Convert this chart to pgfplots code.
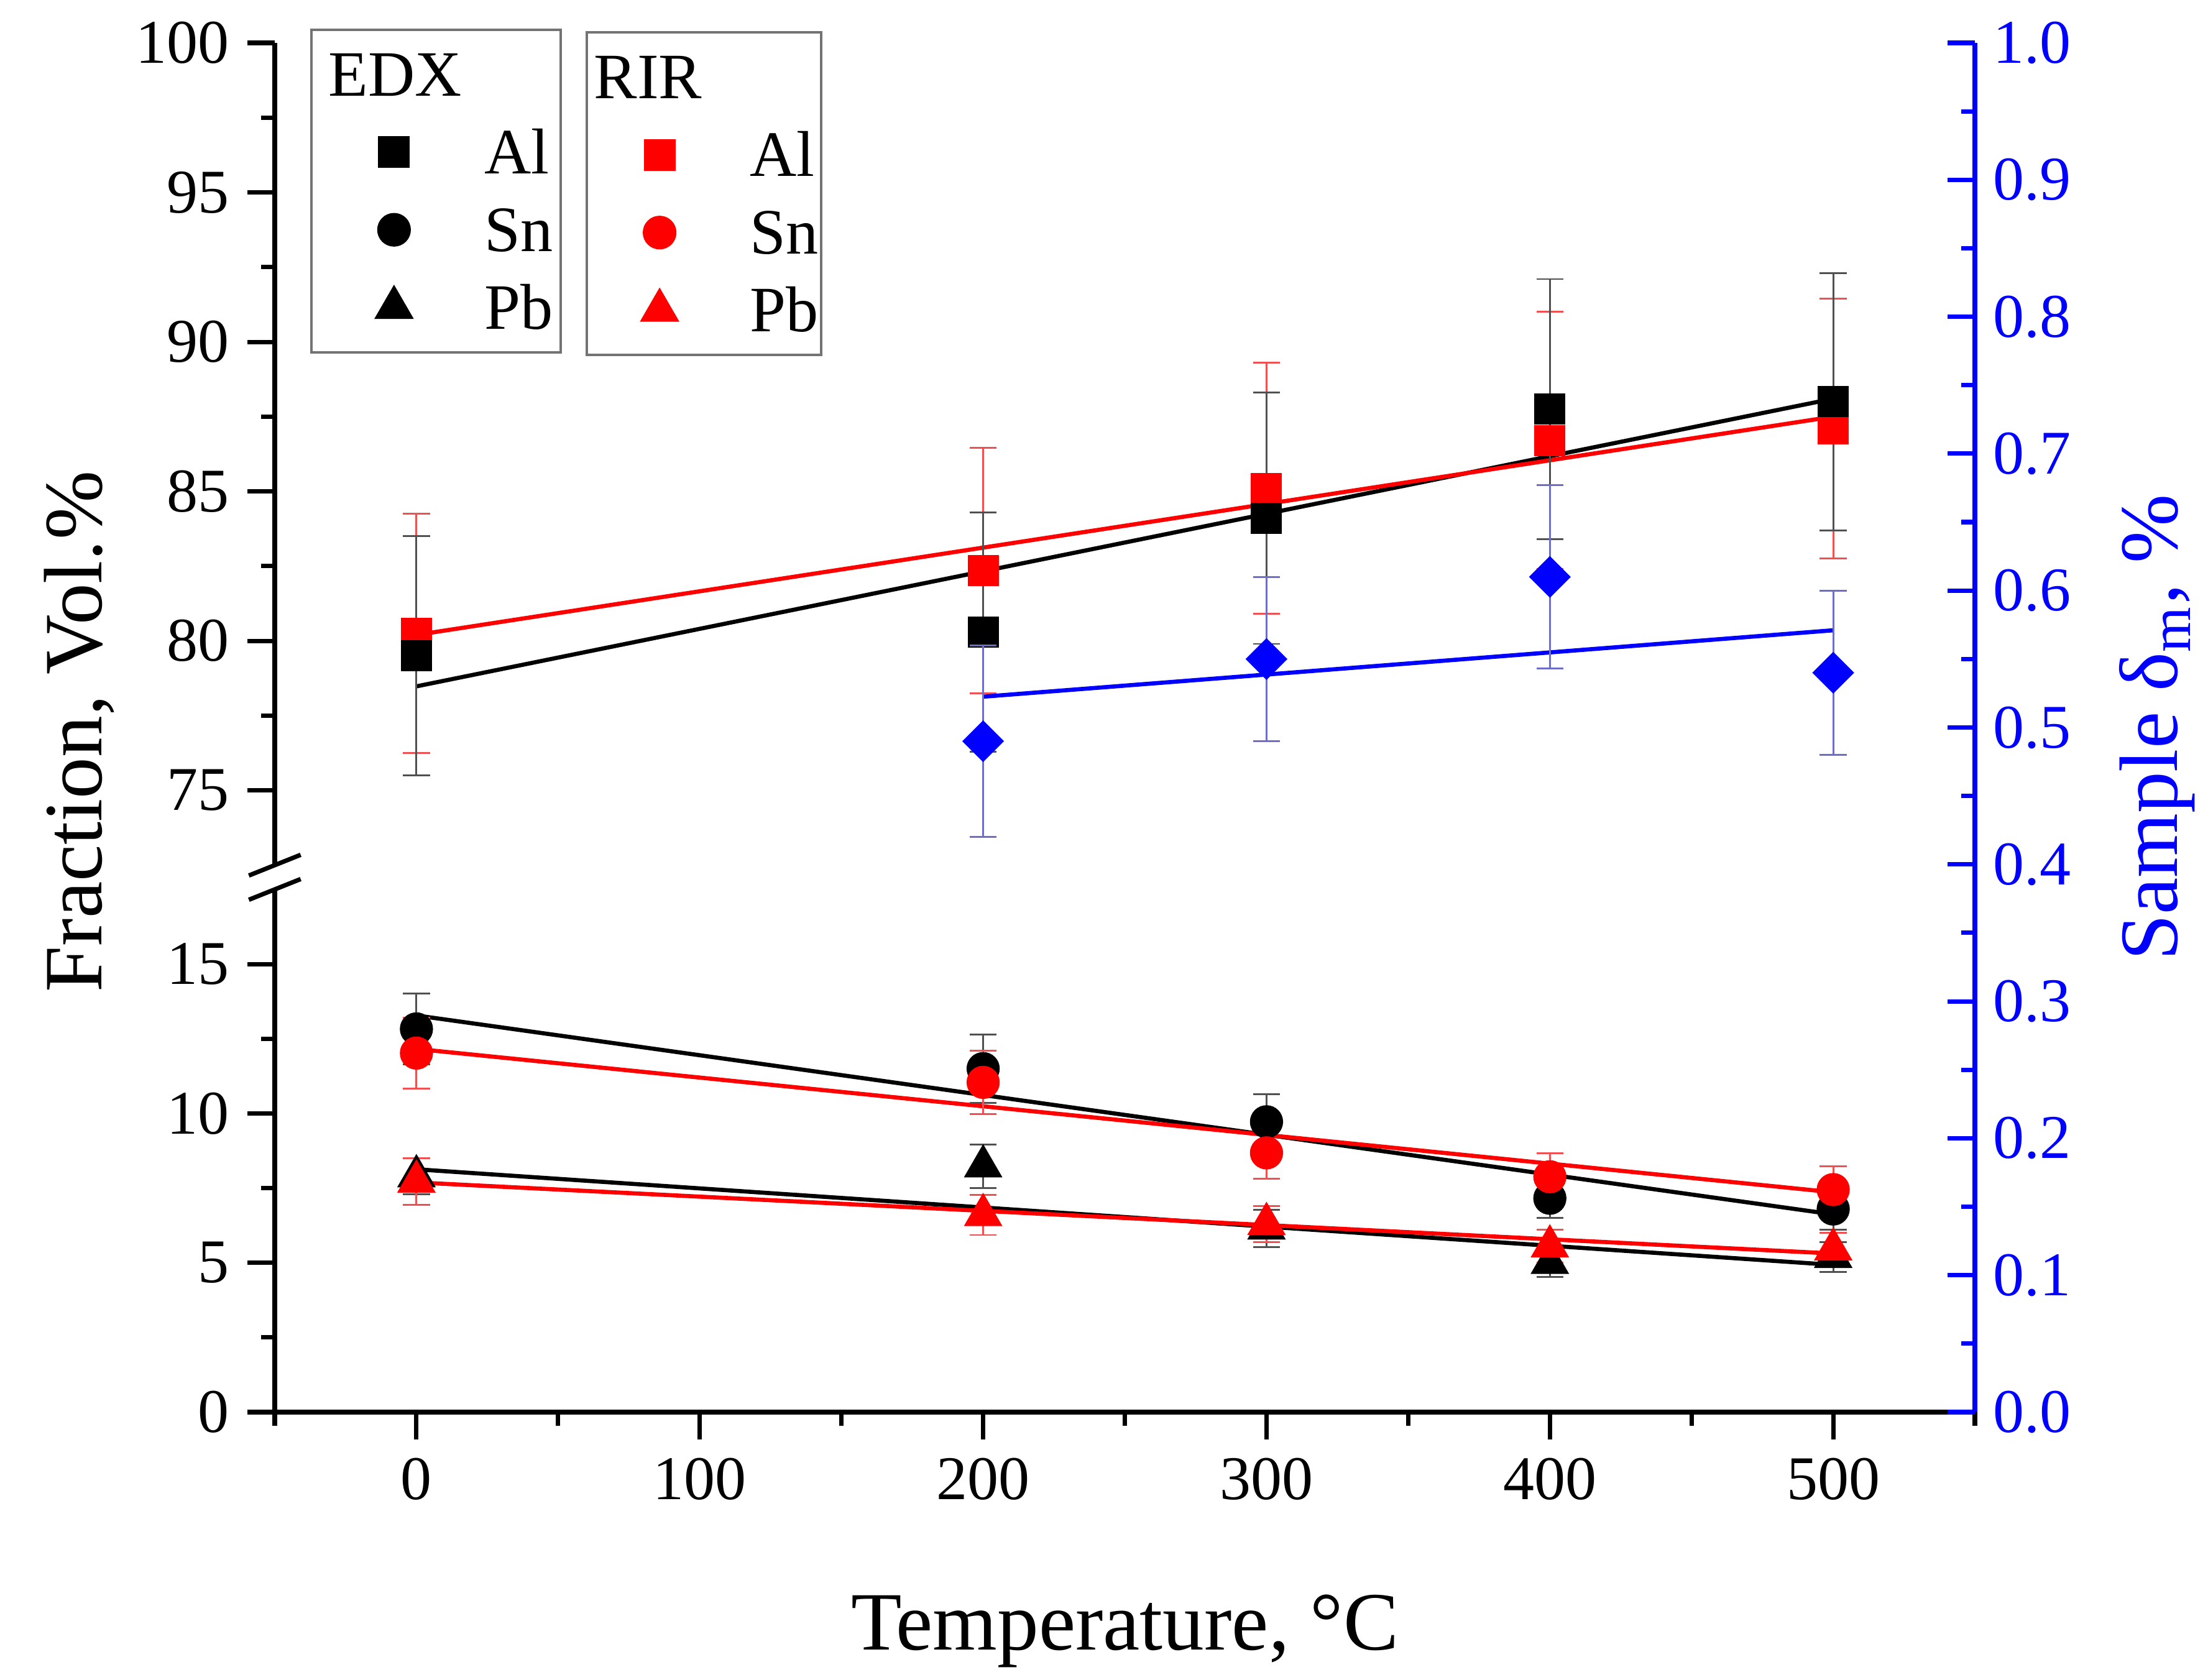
\documentclass[border=0pt]{standalone}
\usepackage{fontspec}
\setmainfont{Liberation Serif}
\usepackage{pgfplots}
\pgfplotsset{compat=1.18}

\definecolor{ebk}{RGB}{80,80,80}
\definecolor{erd}{RGB}{240,80,80}
\definecolor{ebl}{RGB}{110,110,200}

\tikzset{
  sq/.style={mark=square*, mark size=2.8pt},
  ci/.style={mark=*, mark size=3pt},
  tr/.style={mark=triangle*, mark size=3.9pt},
}
\pgfplotsset{
  base/.style={
    scale only axis, anchor=south west, width=328.2pt,
    xmin=-50, xmax=550, clip=false,
    tick style={line width=0.85pt, black},
    major tick length=5.3pt, minor tick length=2.6pt,
    tick label style={font=\fontsize{12}{14}\selectfont},
    /pgf/number format/assume math mode=true,
    legend cell align=left,
    legend style={draw=black!55, line width=0.5pt, inner xsep=1.5pt, inner ysep=4.5pt,
      font=\fontsize{12.5}{15}\selectfont,
      nodes={inner sep=0pt, text height=8.3pt, text depth=0pt},
      row sep=6.7pt, column sep=14pt, anchor=north west},
  },
  noarrows/.style={
    axis line style={line width=0.85pt, -},
    every outer x axis line/.append style={-},
    every outer y axis line/.append style={-},
    every inner x axis line/.append style={-},
    every inner y axis line/.append style={-},
  },
  legimg/.style={legend image code/.code={\path (-#1,0pt) (3.2pt,0pt);\draw[##1] plot coordinates {(0pt,0pt)};}},
  fit/.style={line width=0.8pt, no marks},
  pts/.style={only marks,
    /pgfplots/error bars/y dir=both, /pgfplots/error bars/y explicit,
    /pgfplots/error bars/error bar style={line width=0.35pt, #1},
    /pgfplots/error bars/error mark options={rotate=90, line width=0.35pt, mark size=2.6pt, #1}},
}

\begin{document}
\begin{tikzpicture}
\useasboundingbox (0,0) rectangle (426.24pt,324.36pt);

% lower part: Sn and Pb
\begin{axis}[base, at={(53.04pt,51.72pt)}, height=100.92pt,
  ymin=0, ymax=17.5,
  axis x line=bottom, axis y line=left, tick align=outside, noarrows,
  xtick={0,100,200,300,400,500}, minor xtick={-50,50,150,250,350,450,550},
  ytick={0,5,10,15}, minor ytick={2.5,7.5,12.5},
  xlabel={Temperature, °C},
  xlabel style={at={(axis description cs:0.5,0)}, anchor=base, yshift=-45.84pt,
    font=\fontsize{16}{19}\selectfont},
]
\addplot[fit, black] coordinates {(0,13.28) (500,6.62)};
\addplot[fit, red] coordinates {(0,12.16) (500,7.36)};
\addplot[fit, black] coordinates {(0,8.13) (500,4.93)};
\addplot[fit, red] coordinates {(0,7.69) (500,5.31)};
% EDX Sn
\addplot[black, ci, pts=ebk] coordinates {
  (0,12.83) +- (0,1.18) (200,11.5) +- (0,1.15) (300,9.72) +- (0,0.92)
  (400,7.16) +- (0,0.66) (500,6.8) +- (0,0.7)};
% EDX Pb
\addplot[black, tr, pts=ebk] coordinates {
  (0,7.9) +- (0,0.6) (200,8.23) +- (0,0.72) (300,6.15) +- (0,0.62)
  (400,5.0) +- (0,0.47) (500,5.2) +- (0,0.5)};
% RIR Sn
\addplot[red, ci, pts=erd] coordinates {
  (0,12.02) +- (0,1.19) (200,11.04) +- (0,1.06) (300,8.68) +- (0,0.86)
  (400,7.88) +- (0,0.79) (500,7.45) +- (0,0.78)};
% RIR Pb
\addplot[red, tr, pts=erd] coordinates {
  (0,7.72) +- (0,0.78) (200,6.6) +- (0,0.67) (300,6.3) +- (0,0.6)
  (400,5.55) +- (0,0.55) (500,5.45) +- (0,0.55)};
\draw[line width=0.85pt] ([xshift=-5pt,yshift=-2pt]rel axis cs:0,1) -- ([xshift=5pt,yshift=2pt]rel axis cs:0,1);
\end{axis}

% upper part: Al
\begin{axis}[base, at={(53.04pt,157.32pt)}, height=158.76pt,
  ymin=72.5, ymax=100,
  axis x line=none, axis y line=left, tick align=outside, noarrows,
  ytick={75,80,85,90,95,100}, minor ytick={77.5,82.5,87.5,92.5,97.5},
  legend style={at={(axis description cs:0.0208,1.0177)}},
]
\addlegendimage{empty legend}\addlegendentry{\makebox[0pt][l]{\hspace{-30.6pt}EDX}}
\addlegendimage{black, sq, legimg=14.2pt}\addlegendentry{Al}
\addlegendimage{black, ci, legimg=14.2pt}\addlegendentry{Sn}
\addlegendimage{black, tr, legimg=14.2pt}\addlegendentry{Pb}
\addplot[fit, black, forget plot] coordinates {(0,78.48) (500,88.1)};
\addplot[fit, red, forget plot] coordinates {(0,80.2) (500,87.5)};
\addplot[forget plot, red, sq, pts=erd] coordinates {
  (0,80.25) +- (0,4.0) (200,82.35) +- (0,4.1) (300,85.1) +- (0,4.2)
  (400,86.7) +- (0,4.3) (500,87.1) +- (0,4.35)};
\addplot[forget plot, black, sq, pts=ebk] coordinates {
  (0,79.5) +- (0,4.0) (200,80.3) +- (0,4.0) (300,84.1) +- (0,4.2)
  (400,87.75) +- (0,4.35) (500,88.0) +- (0,4.3)};
\draw[line width=0.85pt] ([xshift=-5pt,yshift=-2pt]rel axis cs:0,0) -- ([xshift=5pt,yshift=2pt]rel axis cs:0,0);
\end{axis}

% right axis: sample delta_m
\begin{axis}[base, at={(53.04pt,51.72pt)}, height=264.36pt,
  ymin=0, ymax=1,
  axis x line=none, axis y line=right, tick align=inside, noarrows,
  y axis line style={blue, line width=1pt},
  tick style={blue},
  ytick={0,0.1,0.2,0.3,0.4,0.5,0.6,0.7,0.8,0.9,1.0},
  minor ytick={0.05,0.15,0.25,0.35,0.45,0.55,0.65,0.75,0.85,0.95},
  yticklabel style={blue, /pgf/number format/fixed, /pgf/number format/fixed zerofill,
    /pgf/number format/precision=1},
  legend style={at={(axis description cs:0.1828,1.0086)}, inner xsep=0.5pt},
]
\addlegendimage{empty legend}\addlegendentry{\makebox[0pt][l]{\hspace{-30.6pt}RIR}}
\addlegendimage{red, sq, legimg=13.3pt}\addlegendentry{Al}
\addlegendimage{red, ci, legimg=13.3pt}\addlegendentry{Sn}
\addlegendimage{red, tr, legimg=13.3pt}\addlegendentry{Pb}
\addplot[fit, blue, forget plot] coordinates {(200,0.5225) (500,0.571)};
\addplot[forget plot, blue, mark=square*, mark size=2.65pt, mark options={rotate=45}, pts=ebl] coordinates {
  (200,0.49) +- (0,0.07) (300,0.55) +- (0,0.06)
  (400,0.61) +- (0,0.067) (500,0.54) +- (0,0.06)};
\node[rotate=90, anchor=base, font=\fontsize{16}{19}\selectfont]
  at ([xshift=-33.36pt]axis description cs:0,0.497) {Fraction, Vol.\%};
\node[rotate=90, anchor=base, blue, font=\fontsize{16}{19}\selectfont]
  at ([xshift=39pt]axis description cs:1,0.5) {Sample δ\textsubscript{m}, \%};
\end{axis}
\end{tikzpicture}
\end{document}
